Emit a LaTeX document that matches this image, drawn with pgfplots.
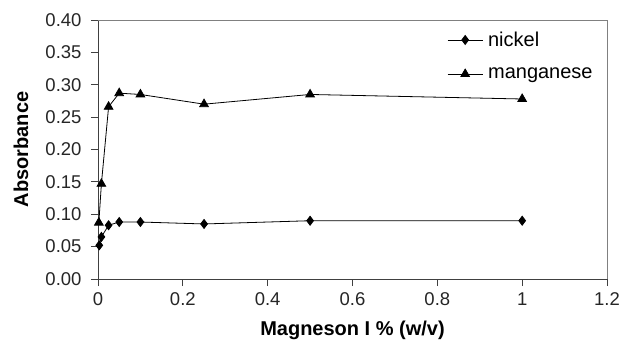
\documentclass[border=0pt]{standalone}
\usepackage{fontspec}
\setmainfont{Liberation Sans}
\usepackage{pgfplots}
\pgfplotsset{compat=1.18}
\begin{document}
\begin{tikzpicture}
\path[use as bounding box] (-98bp,-64bp) rectangle (524bp,279bp);
\begin{axis}[
  at={(0,0)}, anchor=south west,
  scale only axis, width=509bp, height=259bp,
  xmin=0, xmax=1.2, ymin=0, ymax=0.4,
  xtick={0,0.2,...,1.2}, ytick={0,0.05,...,0.4},
  axis x line*=bottom, axis y line*=left,
  axis line style={black!75, line width=0.9bp, -},
  tick align=outside, major tick length=7bp,
  tick style={black!75, line width=0.9bp},
  /pgf/number format/assume math mode=true,
  yticklabel style={/pgf/number format/.cd, fixed, fixed zerofill, precision=2, /tikz/.cd, xshift=-6bp},
  xticklabel style={/pgf/number format/.cd, fixed, /tikz/.cd, yshift=-3bp},
  tick label style={font=\fontsize{18.5bp}{20bp}\selectfont, text=black!85},
  xlabel={\textbf{Magneson I \% (w/v)}},
  ylabel={\textbf{Absorbance}},
  every axis x label/.style={at={(rel axis cs:0.5,0)}, anchor=base, yshift=-56bp, font=\fontsize{20bp}{22bp}\selectfont},
  every axis y label/.style={at={(rel axis cs:0,0.5)}, xshift=-77bp, rotate=90, anchor=center, font=\fontsize{20bp}{22bp}\selectfont},
  legend style={draw=none, fill=none, at={(rel axis cs:0.68,0.97)}, anchor=north west,
    font=\fontsize{20bp}{22bp}\selectfont, row sep=16bp, cells={anchor=west}},
  legend image code/.code={\draw[mark repeat=2,mark phase=2] plot coordinates {(0bp,0bp)(17.5bp,0bp)(35bp,0bp)};\path (38bp,0bp);},
  clip=false,
]
\draw[gray, line width=0.9bp] (rel axis cs:0,1) -- (rel axis cs:1,1) -- (rel axis cs:1,0);
\addplot[black, line width=0.8bp, mark=diamond*, mark size=4.5bp, mark options={solid}] coordinates {
 (0.003,0.052) (0.008,0.065) (0.025,0.083) (0.05,0.088) (0.1,0.088) (0.25,0.085) (0.5,0.090) (1,0.090)};
\addlegendentry{nickel}
\addplot[black, line width=0.8bp, mark=triangle*, mark size=5bp, mark options={solid}] coordinates {
 (0.002,0.087) (0.008,0.147) (0.025,0.266) (0.05,0.287) (0.1,0.285) (0.25,0.270) (0.5,0.285) (1,0.278)};
\addlegendentry{manganese}
\end{axis}
\end{tikzpicture}
\end{document}
